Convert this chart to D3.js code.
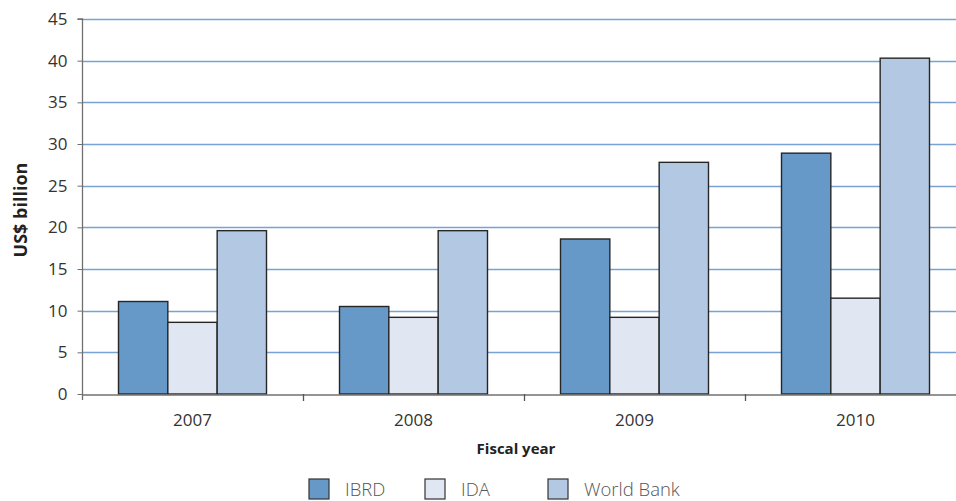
<!DOCTYPE html>
<html>
<head>
<meta charset="utf-8">
<script src="https://cdn.jsdelivr.net/npm/d3@7"></script>
<style>
  html, body { margin: 0; padding: 0; background: #fff; }
  svg { display: block; }
  svg text { font-family: "Open Sans", "Noto Sans", sans-serif; }
</style>
</head>
<body>
<svg id="chart" width="956" height="501"></svg>
<script>
const categories = ["2007", "2008", "2009", "2010"];
const seriesNames = ["IBRD", "IDA", "World Bank"];
const ibrd = [11.1, 10.5, 18.6, 28.9];
const ida = [8.6, 9.2, 9.2, 11.5];
const worldBank = [19.6, 19.6, 27.8, 40.3];
const yTicks = [0, 5, 10, 15, 20, 25, 30, 35, 40, 45];
const colors = ["#6699c8", "#e0e6f2", "#b3c8e2"];

const seriesValues = [ibrd, ida, worldBank];
const svg = d3.select("#chart");

const plotLeft = 82, plotRight = 966, plotTop = 19, plotBottom = 394;

const x = d3.scaleBand().domain(categories).range([plotLeft, plotRight]).paddingInner(0).paddingOuter(0);
const groupW = 148;
const xs = d3.scaleBand().domain(seriesNames).range([0, groupW]).padding(0);
const y = d3.scaleLinear().domain([0, 45]).range([plotBottom, plotTop]);

// gridlines
svg.append("g").selectAll("line").data(yTicks.filter(d => d > 0)).join("line")
  .attr("x1", plotLeft).attr("x2", plotRight)
  .attr("y1", d => Math.round(y(d)) + 0.5).attr("y2", d => Math.round(y(d)) + 0.5)
  .attr("stroke", "#78a2d6").attr("stroke-width", 1.3);

// bars
const groups = svg.append("g").selectAll("g").data(categories).join("g")
  .attr("transform", d => `translate(${x(d) + (x.bandwidth() - groupW) / 2},0)`);
groups.selectAll("rect").data((c, i) => seriesNames.map((s, j) => ({ s, v: seriesValues[j][i], j })))
  .join("rect")
  .attr("x", d => xs(d.s))
  .attr("width", xs.bandwidth())
  .attr("y", d => y(d.v))
  .attr("height", d => y(0) - y(d.v))
  .attr("fill", d => colors[d.j])
  .attr("stroke", "#262626").attr("stroke-width", 1.4);

// y axis
const yAxis = d3.axisLeft(y).tickValues(yTicks).tickSize(5).tickPadding(10);
const yg = svg.append("g").attr("transform", `translate(${plotLeft + 0.5},0)`).call(yAxis)
  .attr("font-family", null).attr("font-size", 17);
yg.select(".domain").attr("stroke", "#707070").attr("stroke-width", 1.3).attr("d", `M-5,${plotTop}H0V${plotBottom + 6}`);
yg.selectAll(".tick line").attr("stroke", "#707070");
yg.selectAll(".tick text").attr("font-size", 17).attr("fill", "#333");

// x axis
const xAxis = d3.axisBottom(x).tickSize(0).tickPadding(19);
const xg = svg.append("g").attr("transform", `translate(0,${plotBottom + 0.5})`).call(xAxis)
  .attr("font-family", null).attr("font-size", 17);
xg.select(".domain").attr("stroke", "#707070").attr("stroke-width", 1.3);
xg.selectAll(".tick text").attr("font-size", 17).attr("fill", "#333");
// category separator ticks
svg.append("g").selectAll("line").data(categories.slice(1)).join("line")
  .attr("x1", d => Math.round(x(d)) + 0.5).attr("x2", d => Math.round(x(d)) + 0.5)
  .attr("y1", plotBottom).attr("y2", plotBottom + 7)
  .attr("stroke", "#555").attr("stroke-width", 1.3);

// axis titles
svg.append("text").attr("x", 516).attr("y", 454).attr("text-anchor", "middle")
  .attr("font-size", 15).attr("font-weight", "bold").attr("fill", "#222").text("Fiscal year");
svg.append("text").attr("transform", "translate(27,210) rotate(-90)").attr("text-anchor", "middle")
  .attr("font-size", 18).attr("font-weight", "bold").attr("fill", "#222").text("US$ billion");

// legend
const legendX = [309, 425, 548];
const lg = svg.append("g").selectAll("g").data(seriesNames).join("g")
  .attr("transform", (d, i) => `translate(${legendX[i]},479)`);
lg.append("rect").attr("width", 20).attr("height", 20)
  .attr("fill", (d, i) => colors[i]).attr("stroke", "#333").attr("stroke-width", 1.2);
lg.append("text").attr("x", 36).attr("y", 17).attr("font-size", 18.5).attr("font-weight", 300)
  .attr("fill", "#555").text(d => d);
</script>
</body>
</html>
